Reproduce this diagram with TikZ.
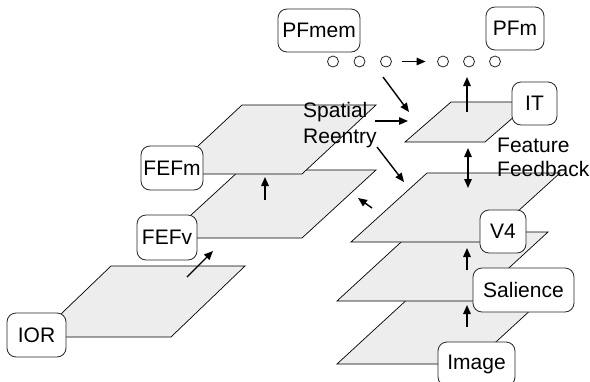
\documentclass[tikz,border=0pt]{standalone}
\usepackage{fontspec}
\setmainfont{Liberation Sans}
\usetikzlibrary{arrows.meta}
\begin{document}
\begin{tikzpicture}[x=1pt,y=-1pt,
  plane/.style={draw=black, fill=black!7, line width=0.7pt, line join=miter},
  lbl/.style={draw=black!85, fill=white, rounded corners=9pt, line width=0.8pt, inner sep=0pt, font=\fontsize{21}{25}\selectfont},
  txt/.style={inner sep=0pt, anchor=base west, font=\fontsize{21}{25}\selectfont},
  dot/.style={circle, draw=black!85, line width=0.8pt, minimum size=11pt, inner sep=0pt},
  arr/.style={line width=1.4pt, -{Triangle[length=9pt,width=7.5pt]}},
  darr/.style={line width=1.4pt, {Triangle[length=9pt,width=7.5pt]}-{Triangle[length=9pt,width=7.5pt]}}
]
\useasboundingbox (0,0) rectangle (590,381);
\clip (0,0) rectangle (590,381);

% left stack planes
\draw[plane] (37,337) -- (171,337) -- (245,266) -- (111,266) -- cycle;
\draw[plane] (166,238) -- (302,238) -- (376,170) -- (240,170) -- cycle;
\draw[plane] (168,174) -- (302,174) -- (376,105) -- (242,105) -- cycle;

% right stack planes
\draw[plane] (337,364) -- (472,364) -- (547,295) -- (412,295) -- cycle;
\draw[plane] (337,301) -- (473,301) -- (548,232) -- (412,232) -- cycle;
\draw[plane] (351,242) -- (484,242) -- (560,173) -- (427,173) -- cycle;
\draw[plane] (405,142) -- (485,142) -- (531,102) -- (451,102) -- cycle;

% labels
\node[lbl, minimum width=82pt, minimum height=43pt] (pfmem) at (319,30.5) {PFmem};
\node[lbl, minimum width=58pt, minimum height=43pt] (pfm) at (515,28.5) {PFm};
\node[lbl, minimum width=45pt, minimum height=43pt] (it) at (534.5,103.5) {IT};
\node[lbl, minimum width=62pt, minimum height=44pt] (fefm) at (172,168) {FEFm};
\node[lbl, minimum width=60pt, minimum height=45pt] (fefv) at (167,237.5) {FEFv};
\node[lbl, minimum width=59pt, minimum height=44pt] (ior) at (36.5,335) {IOR};
\node[lbl, minimum width=46pt, minimum height=43pt] (v4) at (503,231.5) {V4};
\node[lbl, minimum width=101pt, minimum height=44pt] (sal) at (523.5,290) {Salience};
\node[lbl, minimum width=77pt, minimum height=44pt] (img) at (476.5,364) {Image};

% texts
\node[txt] (spatial) at (303,117) {Spatial};
\node[txt] (reentry) at (303,143) {Reentry};
\node[txt] (feature) at (497,152) {Feature};
\node[txt] (feedback) at (497,176) {Feedback};

% dots
\node[dot] (c1) at (333,61.5) {};
\node[dot] (c2) at (359.5,61.5) {};
\node[dot] (c3) at (386,61.5) {};
\node[dot] (c4) at (443,61.5) {};
\node[dot] (c5) at (469,61.5) {};
\node[dot] (c6) at (495,61.5) {};

% arrow end points
\coordinate (itup0) at (467,112);
\coordinate (itup1) at (467,77);
\coordinate (d1a) at (383,77);
\coordinate (d1b) at (409,112);
\coordinate (h1a) at (375,121);
\coordinate (h1b) at (408,121);
\coordinate (d2a) at (377,147);
\coordinate (d2b) at (404,182);
\coordinate (ffa) at (468,148);
\coordinate (ffb) at (468,188);
\coordinate (bka) at (372,208);
\coordinate (bkb) at (358,198);
\coordinate (vma) at (265,200);
\coordinate (vmb) at (265,177);
\coordinate (iva) at (187,277);
\coordinate (ivb) at (213,251);
\coordinate (sva) at (467,270);
\coordinate (svb) at (467,248);
\coordinate (isa) at (467,327);
\coordinate (isb) at (467,305);

% arrows
\draw[arr, shorten <=10.5pt, shorten >=11.5pt] (c3) -- (c4);
\draw[arr] (itup0) -- (itup1);
\draw[arr] (d1a) -- (d1b);
\draw[arr] (h1a) -- (h1b);
\draw[arr] (d2a) -- (d2b);
\draw[darr] (ffa) -- (ffb);
\draw[arr] (bka) -- (bkb);
\draw[arr] (vma) -- (vmb);
\draw[arr] (iva) -- (ivb);
\draw[arr] (sva) -- (svb);
\draw[arr] (isa) -- (isb);
\end{tikzpicture}
\end{document}
